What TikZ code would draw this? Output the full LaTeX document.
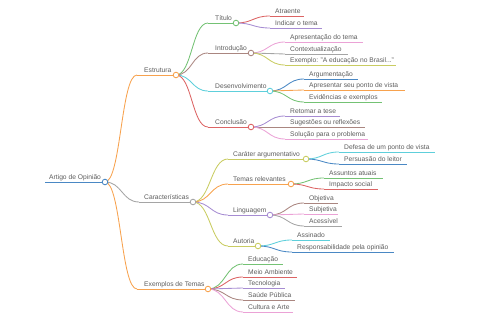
\documentclass[tikz,border=0pt]{standalone}
\usepackage{fontspec}
\setmainfont{Liberation Sans}
\usetikzlibrary{calc}
\definecolor{cblue}{HTML}{4A88C4}
\definecolor{corange}{HTML}{F7A24E}
\definecolor{cgreen}{HTML}{74C274}
\definecolor{cred}{HTML}{DC6464}
\definecolor{cpurple}{HTML}{A68CD2}
\definecolor{cbrown}{HTML}{AA8680}
\definecolor{cpink}{HTML}{EBA2D6}
\definecolor{cgray}{HTML}{A5A5A5}
\definecolor{colive}{HTML}{C9CC62}
\definecolor{ccyan}{HTML}{5ECFDB}
\definecolor{txt}{HTML}{5C5C5C}
\tikzset{
  edge/.style={line width=0.85pt},
  lbl/.style={anchor=base west,inner sep=0pt,text=txt,font=\fontsize{6.7}{8}\selectfont},
  dot/.style={circle,draw=#1,fill=white,line width=0.85pt,minimum size=5.6pt,inner sep=0pt}
}
% name, start x, end x, y, text x, colour, text
\newcommand\mmnode[7]{%
  \coordinate (#1-s) at (#2,#4);
  \coordinate (#1-e) at (#3,#4);
  \draw[#6,edge] (#1-s) -- (#1-e);
  \node[lbl] (#1) at (#5,#4-2.6) {#7};
}
\newcommand\mmlink[3]{%
  \draw[#3,edge] (#1-e) let \p1=(#1-e), \p2=(#2-s) in
    .. controls ({(\x1+\x2)/2},\y1) and ({(\x1+\x2)/2},\y2) .. (#2-s);
}
\newcommand\mmdot[2]{\node[dot=#2] (#1-c) at (#1-e) {};}
\begin{document}
\begin{tikzpicture}[x=1pt,y=-1pt]
\useasboundingbox (0,0) rectangle (480,320);
% nodes and underlines
\mmnode{R}{45}{105}{182}{49}{cblue}{Artigo de Opinião}
\mmnode{E}{137}{176}{75}{144}{corange}{Estrutura}
\mmnode{C}{139}{193}{202}{144}{cgray}{Características}
\mmnode{X}{137}{208}{289}{144}{corange}{Exemplos de Temas}
\mmnode{T}{208}{236}{23}{215}{cgreen}{Título}
\mmnode{I}{208}{251}{53}{215}{cbrown}{Introdução}
\mmnode{D}{208}{270}{91}{215}{ccyan}{Desenvolvimento}
\mmnode{K}{208}{251}{127}{215}{cred}{Conclusão}
\mmnode{Ta}{270}{304}{16}{275}{cred}{Atraente}
\mmnode{Tb}{270}{322}{28}{275}{cpurple}{Indicar o tema}
\mmnode{Ia}{285}{363}{42}{290}{cpink}{Apresentação do tema}
\mmnode{Ib}{285}{348}{54}{290}{cgray}{Contextualização}
\mmnode{Ic}{285}{396}{65}{290}{colive}{Exemplo: "A educação no Brasil..."}
\mmnode{Da}{304}{358}{79}{309}{cblue}{Argumentação}
\mmnode{Db}{304}{405}{90}{309}{corange}{Apresentar seu ponto de vista}
\mmnode{Dc}{304}{382}{102}{309}{cgreen}{Evidências e exemplos}
\mmnode{Ka}{285}{340}{116}{290}{cpurple}{Retomar a tese}
\mmnode{Kb}{285}{365}{127}{290}{cbrown}{Sugestões ou reflexões}
\mmnode{Kc}{285}{368}{139}{290}{cpink}{Solução para o problema}
\mmnode{Ca}{228}{306}{159}{233}{colive}{Caráter argumentativo}
\mmnode{Cb}{228}{291}{184}{233}{corange}{Temas relevantes}
\mmnode{Cc}{228}{270}{215}{233}{cpurple}{Linguagem}
\mmnode{Cd}{228}{258}{246}{233}{colive}{Autoria}
\mmnode{Caa}{339}{435}{152}{344}{ccyan}{Defesa de um ponto de vista}
\mmnode{Cab}{339}{407}{164}{344}{cblue}{Persuasão do leitor}
\mmnode{Cba}{324}{383}{178}{329}{cgreen}{Assuntos atuais}
\mmnode{Cbb}{324}{378}{189}{329}{cred}{Impacto social}
\mmnode{Cca}{304}{338}{203}{309}{cbrown}{Objetiva}
\mmnode{Ccb}{304}{338}{214}{309}{cpink}{Subjetiva}
\mmnode{Ccc}{304}{342}{226}{309}{cgray}{Acessível}
\mmnode{Cda}{292}{330}{240}{297}{ccyan}{Assinado}
\mmnode{Cdb}{292}{394}{252}{297}{cblue}{Responsabilidade pela opinião}
\mmnode{Xa}{243}{283}{264}{248}{cgreen}{Educação}
\mmnode{Xb}{243}{297}{277}{248}{cred}{Meio Ambiente}
\mmnode{Xc}{243}{285}{288}{248}{cpurple}{Tecnologia}
\mmnode{Xd}{243}{295}{300}{248}{cbrown}{Saúde Pública}
\mmnode{Xf}{243}{293}{312}{248}{cpink}{Cultura e Arte}
% connectors
\mmlink{R}{E}{corange}
\mmlink{R}{C}{cgray}
\mmlink{R}{X}{corange}
\mmlink{E}{T}{cgreen}
\mmlink{E}{I}{cbrown}
\mmlink{E}{D}{ccyan}
\mmlink{E}{K}{cred}
\mmlink{T}{Ta}{cred}
\mmlink{T}{Tb}{cpurple}
\mmlink{I}{Ia}{cpink}
\mmlink{I}{Ib}{cgray}
\mmlink{I}{Ic}{colive}
\mmlink{D}{Da}{cblue}
\mmlink{D}{Db}{corange}
\mmlink{D}{Dc}{cgreen}
\mmlink{K}{Ka}{cpurple}
\mmlink{K}{Kb}{cbrown}
\mmlink{K}{Kc}{cpink}
\mmlink{C}{Ca}{colive}
\mmlink{C}{Cb}{corange}
\mmlink{C}{Cc}{cpurple}
\mmlink{C}{Cd}{colive}
\mmlink{Ca}{Caa}{ccyan}
\mmlink{Ca}{Cab}{cblue}
\mmlink{Cb}{Cba}{cgreen}
\mmlink{Cb}{Cbb}{cred}
\mmlink{Cc}{Cca}{cbrown}
\mmlink{Cc}{Ccb}{cpink}
\mmlink{Cc}{Ccc}{cgray}
\mmlink{Cd}{Cda}{ccyan}
\mmlink{Cd}{Cdb}{cblue}
\mmlink{X}{Xa}{cgreen}
\mmlink{X}{Xb}{cred}
\mmlink{X}{Xc}{cpurple}
\mmlink{X}{Xd}{cbrown}
\mmlink{X}{Xf}{cpink}
% circles
\mmdot{R}{cblue}
\mmdot{E}{corange}
\mmdot{C}{cgray}
\mmdot{X}{corange}
\mmdot{T}{cgreen}
\mmdot{I}{cbrown}
\mmdot{D}{ccyan}
\mmdot{K}{cred}
\mmdot{Ca}{colive}
\mmdot{Cb}{corange}
\mmdot{Cc}{cpurple}
\mmdot{Cd}{colive}
\end{tikzpicture}
\end{document}
